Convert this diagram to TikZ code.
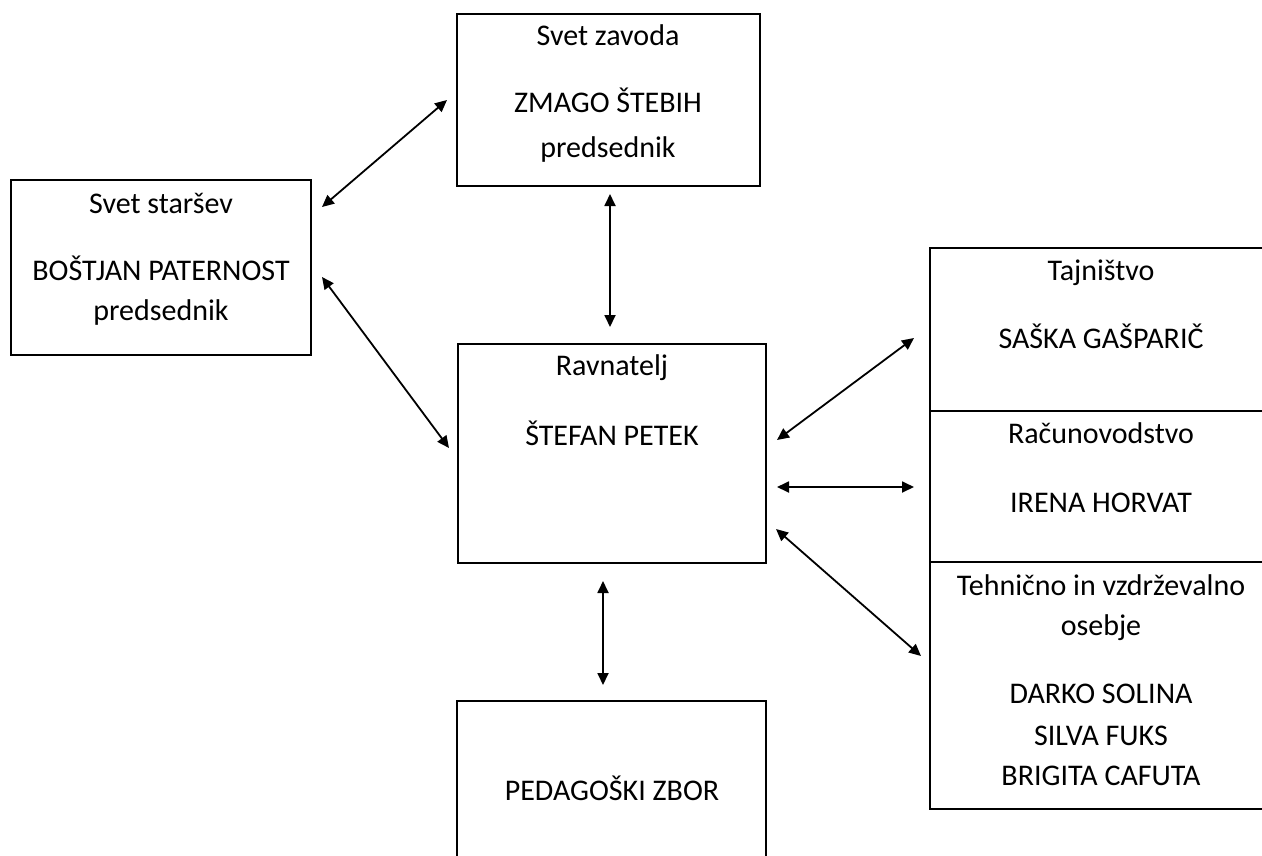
\documentclass[tikz,border=0pt]{standalone}
\usepackage{fontspec}
\setmainfont{Carlito}
\usetikzlibrary{arrows.meta}
\tikzset{
  box/.style={draw, line width=2.3pt, rectangle, inner sep=0pt, outer sep=0pt},
  txt/.style={anchor=base, inner sep=0pt, font=\fontsize{30}{36}\selectfont},
  link/.style={line width=1.8pt, {Triangle[length=12pt,width=11pt]}-{Triangle[length=12pt,width=11pt]}}
}
\begin{document}
\begin{tikzpicture}[x=1pt,y=-1pt]
\useasboundingbox (0,0) rectangle (1262,855);
% boxes
\node[box, minimum width=303pt, minimum height=172pt] (zavod) at (608.5,100) {};
\node[box, minimum width=300pt, minimum height=175pt] (starsi) at (161,267.5) {};
\node[box, minimum width=308pt, minimum height=219pt] (ravn) at (612,453.5) {};
\node[box, minimum width=309pt, minimum height=200pt] (ped) at (611.5,801) {};
\node[box, minimum width=342pt, minimum height=163pt] (taj) at (1101,329.5) {};
\node[box, minimum width=342pt, minimum height=151pt] (rac) at (1101,486.5) {};
\node[box, minimum width=342pt, minimum height=247pt] (teh) at (1101,685.5) {};
% texts
\node[txt] (t1) at (608,45) {Svet zavoda};
\node[txt] (t2) at (608,112) {ZMAGO ŠTEBIH};
\node[txt] (t3) at (608,157) {predsednik};
\node[txt] (t4) at (161,213) {Svet staršev};
\node[txt] (t5) at (161,280) {BOŠTJAN PATERNOST};
\node[txt] (t6) at (161,320) {predsednik};
\node[txt] (t7) at (612,375) {Ravnatelj};
\node[txt] (t8) at (612,445) {ŠTEFAN PETEK};
\node[txt] (t9) at (612,800) {PEDAGOŠKI ZBOR};
\node[txt] (t10) at (1101,280) {Tajništvo};
\node[txt] (t11) at (1101,348) {SAŠKA GAŠPARIČ};
\node[txt] (t12) at (1101,443) {Računovodstvo};
\node[txt] (t13) at (1101,512) {IRENA HORVAT};
\node[txt] (t14) at (1101,595) {Tehnično in vzdrževalno};
\node[txt] (t15) at (1101,635) {osebje};
\node[txt] (t16) at (1101,703) {DARKO SOLINA};
\node[txt] (t17) at (1101,745) {SILVA FUKS};
\node[txt] (t18) at (1101,785) {BRIGITA CAFUTA};
% connector ends
\coordinate (a1) at (322,207);
\coordinate (a2) at (447,100);
\coordinate (b1) at (322,277);
\coordinate (b2) at (449,448);
\coordinate (c1) at (610,194);
\coordinate (c2) at (610,327);
\coordinate (d1) at (777,440);
\coordinate (d2) at (914,338);
\coordinate (e1) at (777,487);
\coordinate (e2) at (914,487);
\coordinate (f1) at (776,529);
\coordinate (f2) at (921,656);
\coordinate (g1) at (603,581);
\coordinate (g2) at (603,685);
\draw[link] (a1) -- (a2);
\draw[link] (b1) -- (b2);
\draw[link] (c1) -- (c2);
\draw[link] (d1) -- (d2);
\draw[link] (e1) -- (e2);
\draw[link] (f1) -- (f2);
\draw[link] (g1) -- (g2);
\end{tikzpicture}
\end{document}
